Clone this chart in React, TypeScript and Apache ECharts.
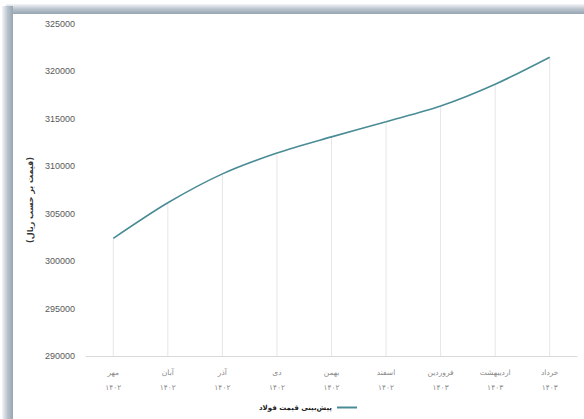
import React, { useEffect, useRef } from "react";
import * as echarts from "echarts";

const months = ["مهر", "آبان", "آذر", "دی", "بهمن", "اسفند", "فروردین", "اردیبهشت", "خرداد"];
const years = ["۱۴۰۲", "۱۴۰۲", "۱۴۰۲", "۱۴۰۲", "۱۴۰۲", "۱۴۰۲", "۱۴۰۳", "۱۴۰۳", "۱۴۰۳"];
const prices = [302400, 306150, 309200, 311400, 313100, 314700, 316350, 318650, 321500];
const seriesName = "پیش‌بینی قیمت فولاد";
const yAxisTitle = "(قیمت بر حسب ریال)";

export default function App() {
  const ref = useRef<HTMLDivElement>(null);
  useEffect(() => {
    document.body.style.margin = "0";
    const chart = echarts.init(ref.current!, null, { renderer: "svg" });
    const categories = months.map((m, i) => m + "\n" + years[i]);
    chart.setOption({
      animation: false,
      backgroundColor: "#ffffff",
      graphic: [
        {
          type: "rect",
          shape: { x: 6, y: 4, width: 578, height: 10 },
          style: {
            fill: new echarts.graphic.LinearGradient(0, 0, 0, 1, [
              { offset: 0, color: "#f4f6f8" },
              { offset: 0.5, color: "#b9c3cc" },
              { offset: 1, color: "#97a6b3" },
            ]),
          },
          z: 0,
        },
        {
          type: "rect",
          shape: { x: 2, y: 6, width: 11, height: 413 },
          style: {
            fill: new echarts.graphic.LinearGradient(0, 0, 1, 0, [
              { offset: 0, color: "#f4f6f8" },
              { offset: 0.5, color: "#b9c3cc" },
              { offset: 1, color: "#97a6b3" },
            ]),
          },
          z: 0,
        },
      ],
      grid: { left: 86, right: 7, top: 24, bottom: 63 },
      legend: {
        data: [seriesName],
        bottom: 3,
        left: 254,
        align: "right",
        itemWidth: 20,
        itemHeight: 2,
        icon: "rect",
        itemGap: 2,
        textStyle: { fontFamily: "DejaVu Sans", fontSize: 7, fontWeight: "bold", color: "#222", padding: [0, 0, 0, 0] },
      },
      xAxis: {
        type: "category",
        data: categories,
        boundaryGap: true,
        axisLine: { lineStyle: { color: "#d9d9d9" } },
        axisTick: { show: false },
        axisLabel: {
          color: "#8a8a8a",
          fontSize: 7.5,
          lineHeight: 15,
          margin: 9,
          fontFamily: "DejaVu Sans",
        },
      },
      yAxis: {
        type: "value",
        min: 290000,
        max: 325000,
        interval: 5000,
        splitLine: { show: false },
        axisLine: { show: false },
        axisTick: { show: false },
        axisLabel: {
          color: "#595959",
          fontSize: 9,
          margin: 11,
          fontFamily: "Liberation Sans",
          formatter: (v: number) => String(v),
        },
        name: yAxisTitle,
        nameLocation: "middle",
        nameGap: 50,
        nameRotate: 90,
        nameTextStyle: { fontFamily: "DejaVu Sans", fontSize: 8, fontWeight: "bold", color: "#333", padding: [0, 0, 0, -20] },
      },
      series: [
        {
          type: "bar",
          data: prices,
          barWidth: 1,
          itemStyle: { color: "#e6e6e6" },
          silent: true,
          z: 1,
        },
        {
          name: seriesName,
          type: "line",
          data: prices,
          smooth: 0.3,
          showSymbol: false,
          lineStyle: { color: "#4a8c96", width: 1.6 },
          itemStyle: { color: "#4a8c96" },
          z: 3,
        },
      ],
    });
    return () => chart.dispose();
  }, []);
  return <div ref={ref} style={{ width: 584, height: 419 }} />;
}
